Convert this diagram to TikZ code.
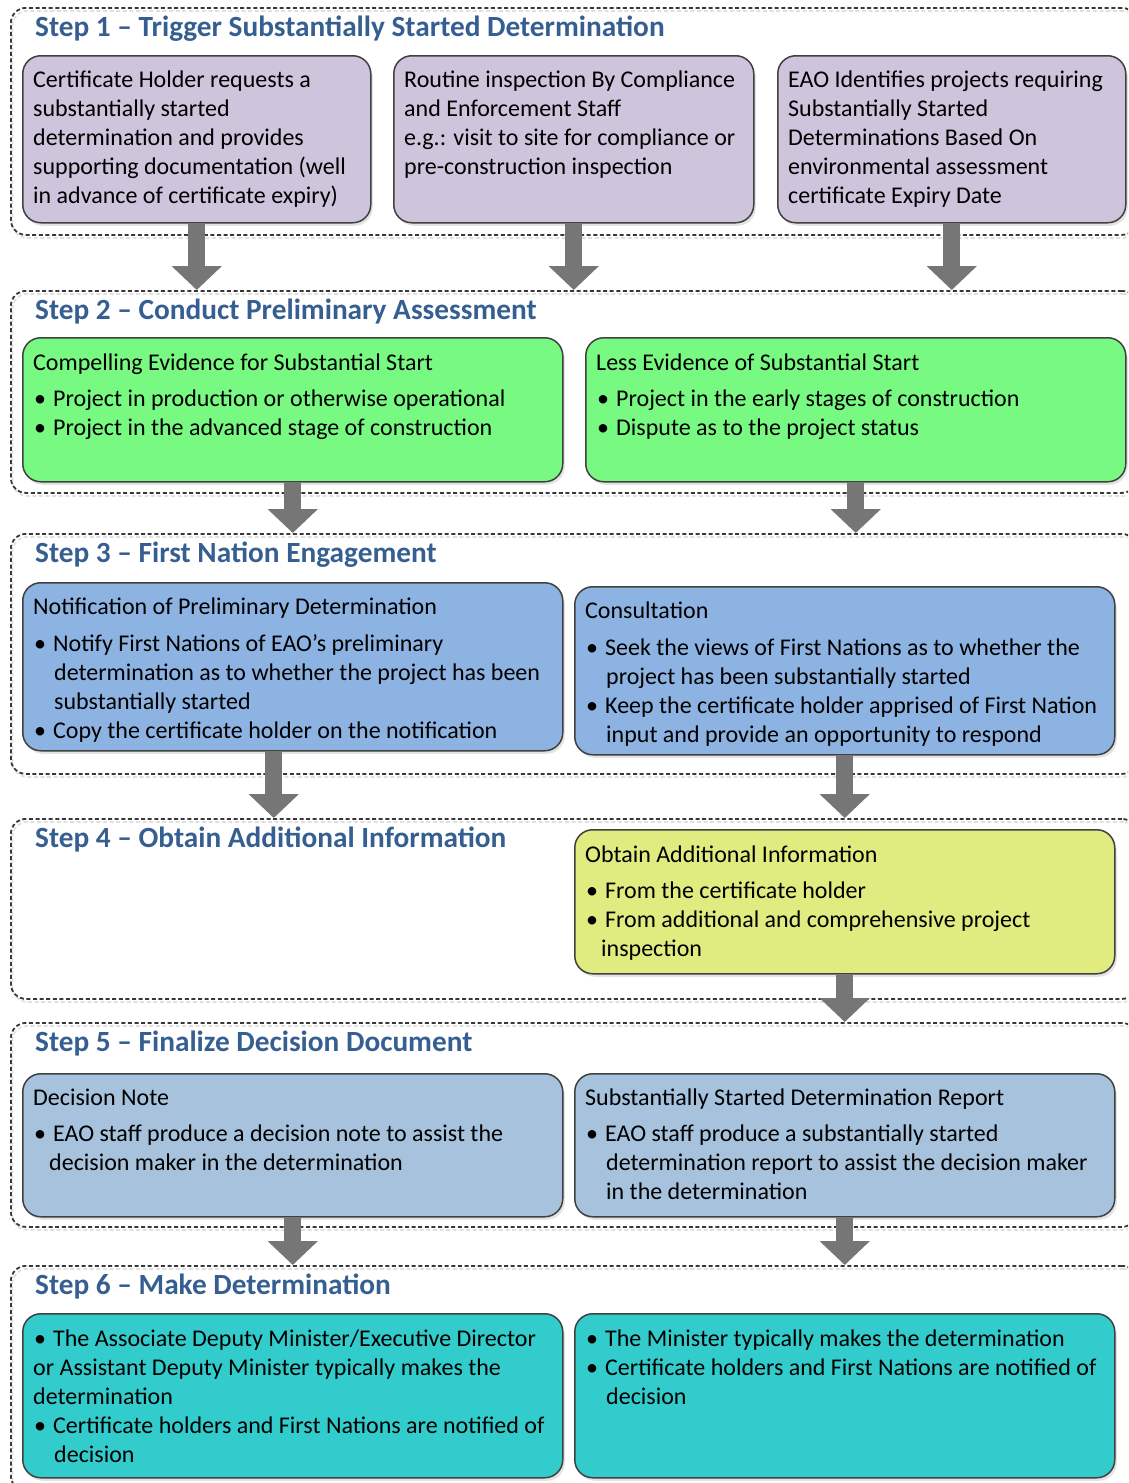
\documentclass[tikz,border=0pt]{standalone}
\usepackage{fontspec}
\setmainfont{Carlito}
\usetikzlibrary{arrows.meta,shadows}
\definecolor{titleblue}{RGB}{54,95,145}
\definecolor{lav}{RGB}{206,196,220}
\definecolor{grn}{RGB}{120,249,130}
\definecolor{blu}{RGB}{141,179,226}
\definecolor{ylw}{RGB}{224,236,128}
\definecolor{stl}{RGB}{166,194,220}
\definecolor{tealb}{RGB}{51,204,204}
\definecolor{edge}{RGB}{64,64,64}
\definecolor{arrg}{RGB}{118,118,118}
\newcommand\bul{\makebox[20pt][l]{\hspace{1pt}•}}
\newcommand\ind{\hspace*{21pt}}
\begin{document}
\begin{tikzpicture}[x=1pt,y=-1pt,
  cont/.style={draw=black!78, line width=1.8pt, dash pattern=on 4pt off 2.6pt, rounded corners=15pt, anchor=north west, inner sep=0pt, minimum width=1126pt,
     preaction={draw=black!12, line width=1.8pt, dash pattern=on 4pt off 2.6pt, transform canvas={shift={(1.5pt,-3pt)}}}},
  bx/.style={draw=edge, line width=1.5pt, rounded corners=18pt, anchor=north west, inner sep=0pt,
     drop shadow={shadow xshift=2pt, shadow yshift=-3pt, opacity=0.22}},
  txt/.style={anchor=north west, inner sep=0pt, align=left, font=\fontsize{24}{29}\selectfont},
  ttl/.style={anchor=base west, inner sep=0pt, font=\fontsize{29.3}{32}\selectfont\bfseries, text=titleblue},
  bigarrow/.style={draw=arrg, line width=17pt, -{Triangle[width=49pt,length=24pt]}}
]
\useasboundingbox (0,0) rectangle (1128,1483);
\clip (0,0) rectangle (1128,1483);

% containers
\node[cont, minimum height=227pt] (c1) at (10,7) {};
\node[cont, minimum height=202pt] (c2) at (10,290) {};
\node[cont, minimum height=240pt] (c3) at (10,533) {};
\node[cont, minimum height=180pt] (c4) at (10,818) {};
\node[cont, minimum height=204pt] (c5) at (10,1022) {};
\node[cont, minimum height=225pt] (c6) at (10,1265) {};

% titles
\node[ttl] (t1) at (35,36) {Step 1 – Trigger Substantially Started Determination};
\node[ttl] (t2) at (35,319) {Step 2 – Conduct Preliminary Assessment};
\node[ttl] (t3) at (35,562) {Step 3 – First Nation Engagement};
\node[ttl] (t4) at (35,847) {Step 4 – Obtain Additional Information};
\node[ttl] (t5) at (35,1051) {Step 5 – Finalize Decision Document};
\node[ttl] (t6) at (35,1294) {Step 6 – Make Determination};

% boxes
\node[bx, fill=lav, minimum width=348pt, minimum height=167pt] (b11) at (22,55) {};
\node[bx, fill=lav, minimum width=360pt, minimum height=167pt] (b12) at (393,55) {};
\node[bx, fill=lav, minimum width=348pt, minimum height=167pt] (b13) at (777,55) {};
\node[bx, fill=grn, minimum width=540pt, minimum height=144pt] (b21) at (22,337) {};
\node[bx, fill=grn, minimum width=540pt, minimum height=144pt] (b22) at (585,337) {};
\node[bx, fill=blu, minimum width=540pt, minimum height=168pt] (b31) at (22,582) {};
\node[bx, fill=blu, minimum width=540pt, minimum height=168pt] (b32) at (574,586) {};
\node[bx, fill=ylw, minimum width=540pt, minimum height=144pt] (b41) at (574,829) {};
\node[bx, fill=stl, minimum width=540pt, minimum height=143pt] (b51) at (22,1073) {};
\node[bx, fill=stl, minimum width=540pt, minimum height=143pt] (b52) at (574,1073) {};
\node[bx, fill=tealb, minimum width=540pt, minimum height=164pt] (b61) at (22,1313) {};
\node[bx, fill=tealb, minimum width=540pt, minimum height=164pt] (b62) at (574,1313) {};

% texts
\node[txt] (x11) at (33,66.7) {\strut Certificate Holder requests a\\\strut substantially started\\\strut determination and provides\\\strut supporting documentation (well\\\strut in advance of certificate expiry)};
\node[txt] (x12) at (404,66.7) {\strut Routine inspection By Compliance\\\strut and Enforcement Staff\\\strut e.g.: visit to site for compliance or\\\strut pre-construction inspection};
\node[txt] (x13) at (788,66.7) {\strut EAO Identifies projects requiring\\\strut Substantially Started\\\strut Determinations Based On\\\strut environmental assessment\\\strut certificate Expiry Date};

\node[txt] (x21) at (33,349.7) {\strut Compelling Evidence for Substantial Start\\[7pt]\strut\bul Project in production or otherwise operational\\\strut\bul Project in the advanced stage of construction};
\node[txt] (x22) at (596,349.7) {\strut Less Evidence of Substantial Start\\[7pt]\strut\bul Project in the early stages of construction\\\strut\bul Dispute as to the project status};

\node[txt] (x31) at (33,593.7) {\strut Notification of Preliminary Determination\\[8pt]\strut\bul Notify First Nations of EAO’s preliminary\\\strut\ind determination as to whether the project has been\\\strut\ind substantially started\\\strut\bul Copy the certificate holder on the notification};
\node[txt] (x32) at (585,597.7) {\strut Consultation\\[8pt]\strut\bul Seek the views of First Nations as to whether the\\\strut\ind project has been substantially started\\\strut\bul Keep the certificate holder apprised of First Nation\\\strut\ind input and provide an opportunity to respond};

\node[txt] (x41) at (585,841.7) {\strut Obtain Additional Information\\[7pt]\strut\bul From the certificate holder\\\strut\bul From additional and comprehensive project\\\strut\hspace*{16pt}inspection};

\node[txt] (x51) at (33,1084.7) {\strut Decision Note\\[7pt]\strut\bul EAO staff produce a decision note to assist the\\\strut\hspace*{16pt}decision maker in the determination};
\node[txt] (x52) at (585,1084.7) {\strut Substantially Started Determination Report\\[7pt]\strut\bul EAO staff produce a substantially started\\\strut\ind determination report to assist the decision maker\\\strut\ind in the determination};

\node[txt] (x61) at (33,1325.7) {\strut\bul The Associate Deputy Minister/Executive Director\\\strut or Assistant Deputy Minister typically makes the\\\strut determination\\\strut\bul Certificate holders and First Nations are notified of\\\strut\ind decision};
\node[txt] (x62) at (585,1325.7) {\strut\bul The Minister typically makes the determination\\\strut\bul Certificate holders and First Nations are notified of\\\strut\ind decision};

% arrows
\draw[bigarrow] (b11.south) -- (b11.south |- c2.north);
\draw[bigarrow] (b12.south) -- (b12.south |- c2.north);
\draw[bigarrow] (b13.south) -- (b13.south |- c2.north);
\draw[bigarrow] (b21.south) -- (b21.south |- c3.north);
\draw[bigarrow] (b22.south) -- (b22.south |- c3.north);
\draw[bigarrow] ([xshift=-19pt]b31.south) -- ([xshift=-19pt]b31.south |- c4.north);
\draw[bigarrow] (b32.south) -- (b32.south |- c4.north);
\draw[bigarrow] (b41.south) -- (b41.south |- c5.north);
\draw[bigarrow] (b51.south) -- (b51.south |- c6.north);
\draw[bigarrow] (b52.south) -- (b52.south |- c6.north);
\end{tikzpicture}
\end{document}
